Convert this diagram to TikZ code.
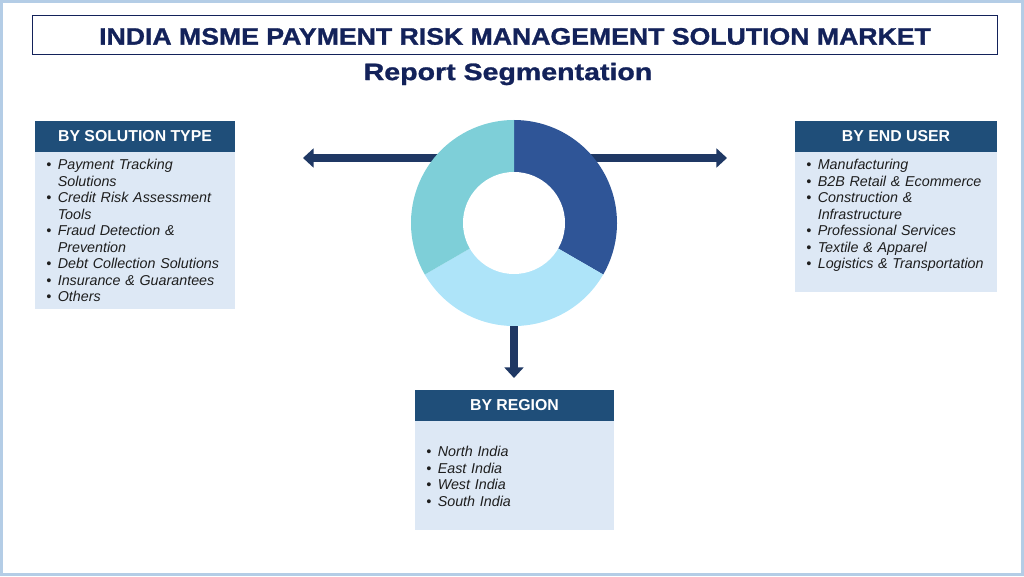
\documentclass[tikz,border=0pt]{standalone}
\usepackage{fontspec}
\setmainfont{Liberation Sans}
\newfontfamily\titlefont[FakeStretch=1.12,FakeBold=1.2]{Liberation Sans}
\newfontfamily\subfont[FakeStretch=1.2,FakeBold=1.2]{Liberation Sans}
\usetikzlibrary{arrows.meta,positioning}

\definecolor{navy}{HTML}{13225A}
\definecolor{hdrblue}{HTML}{1F4E79}
\definecolor{bodyblue}{HTML}{DDE8F5}
\definecolor{arrowblue}{HTML}{1F3864}
\definecolor{segdark}{HTML}{2F5597}
\definecolor{seglight}{HTML}{AEE4F9}
\definecolor{segteal}{HTML}{7ECFD8}
\definecolor{frameblue}{HTML}{B4CDE6}
\definecolor{listgray}{HTML}{1E1E1E}

\newenvironment{seglist}{\begin{list}{\textbullet}{%
  \setlength{\leftmargin}{15pt}\setlength{\labelsep}{5.5pt}%
  \setlength{\labelwidth}{9pt}\setlength{\itemsep}{0pt}%
  \setlength{\parsep}{0pt}\setlength{\topsep}{0pt}\setlength{\partopsep}{0pt}}}%
  {\end{list}}

\begin{document}
\begin{tikzpicture}[x=0.03cm,y=0.03cm,
   segh/.style={rectangle,fill=hdrblue,text=white,minimum width=171pt,
    minimum height=26.5pt,inner sep=0pt,font=\fontsize{13.5}{15}\selectfont\bfseries},
   segbody/.style={rectangle,fill=bodyblue,minimum width=171pt,inner sep=0pt},
   seglines/.style={anchor=north west,inner sep=0pt,text width=165pt,text=listgray,
    font=\fontsize{12.2}{14.1}\selectfont\itshape},
   segarrow/.style={arrowblue,line width=6.5pt,-{Triangle[width=16pt,length=9pt]}}
    ]

  \useasboundingbox (0,0) rectangle (1024,576);
  \draw[frameblue,line width=2.5pt] (1.5,1.5) rectangle (1022.5,574.5);

  % -- title
  \node[draw=navy,line width=0.8pt,minimum width=822.9pt,minimum height=33.3pt,
    text height=17.5pt,text=navy,font=\fontsize{20.3}{24}\titlefont\bfseries]
    at (515,541.5) (title) {INDIA MSME PAYMENT RISK MANAGEMENT SOLUTION MARKET};
  \node[text=navy,font=\fontsize{20.3}{24}\subfont\bfseries] at (508,502) (sub)
    {Report Segmentation};

  % -- hub and arrow ends
  \coordinate (hub) at (514,353);
  \coordinate (solend) at (303,418);
  \coordinate (endend) at (727,418);
  \coordinate (regend) at (514,198);

  % -- arrows, under the ring
  \draw[segarrow] (hub |- solend) -- (solend);
  \draw[segarrow] (hub |- endend) -- (endend);
  \draw[segarrow] (hub) -- (regend);

  % -- ring
  \fill[segdark] (hub) -- ++(90:3.09cm) arc[start angle=90,end angle=-30,radius=3.09cm] -- cycle;
  \fill[seglight] (hub) -- ++(-30:3.09cm) arc[start angle=-30,end angle=-150,radius=3.09cm] -- cycle;
  \fill[segteal] (hub) -- ++(210:3.09cm) arc[start angle=210,end angle=90,radius=3.09cm] -- cycle;
  \fill[white] (hub) circle[radius=1.53cm];

  % -- by solution type
  \node[segh] at (135,439.5) (solh) {BY SOLUTION TYPE};
  \node[segbody,minimum height=133.2pt,below=0pt of solh] (solb) {};
  \node[seglines] at (40,423) (soll) {\begin{seglist}
    \item Payment Tracking\newline Solutions
    \item Credit Risk Assessment\newline Tools
    \item Fraud Detection \&\newline Prevention
    \item Debt Collection Solutions
    \item Insurance \& Guarantees
    \item Others
  \end{seglist}};

  % -- by end user
  \node[segh,minimum width=172.4pt] at (896,439.5) (endh) {BY END USER};
  \node[segbody,minimum width=172.4pt,minimum height=119.5pt,below=0pt of endh] (endb) {};
  \node[seglines] at (800,423) (endl) {\begin{seglist}
    \item Manufacturing
    \item B2B Retail \& Ecommerce
    \item Construction \&\newline Infrastructure
    \item Professional Services
    \item Textile \& Apparel
    \item Logistics \& Transportation
  \end{seglist}};

  % -- by region
  \node[segh,minimum width=169.9pt] at (514.5,170.5) (regh) {BY REGION};
  \node[segbody,minimum width=169.9pt,minimum height=93pt,below=0pt of regh] (regb) {};
  \node[seglines] at (420,136) (regl) {\begin{seglist}
    \item North India
    \item East India
    \item West India
    \item South India
  \end{seglist}};

\end{tikzpicture}
\end{document}
